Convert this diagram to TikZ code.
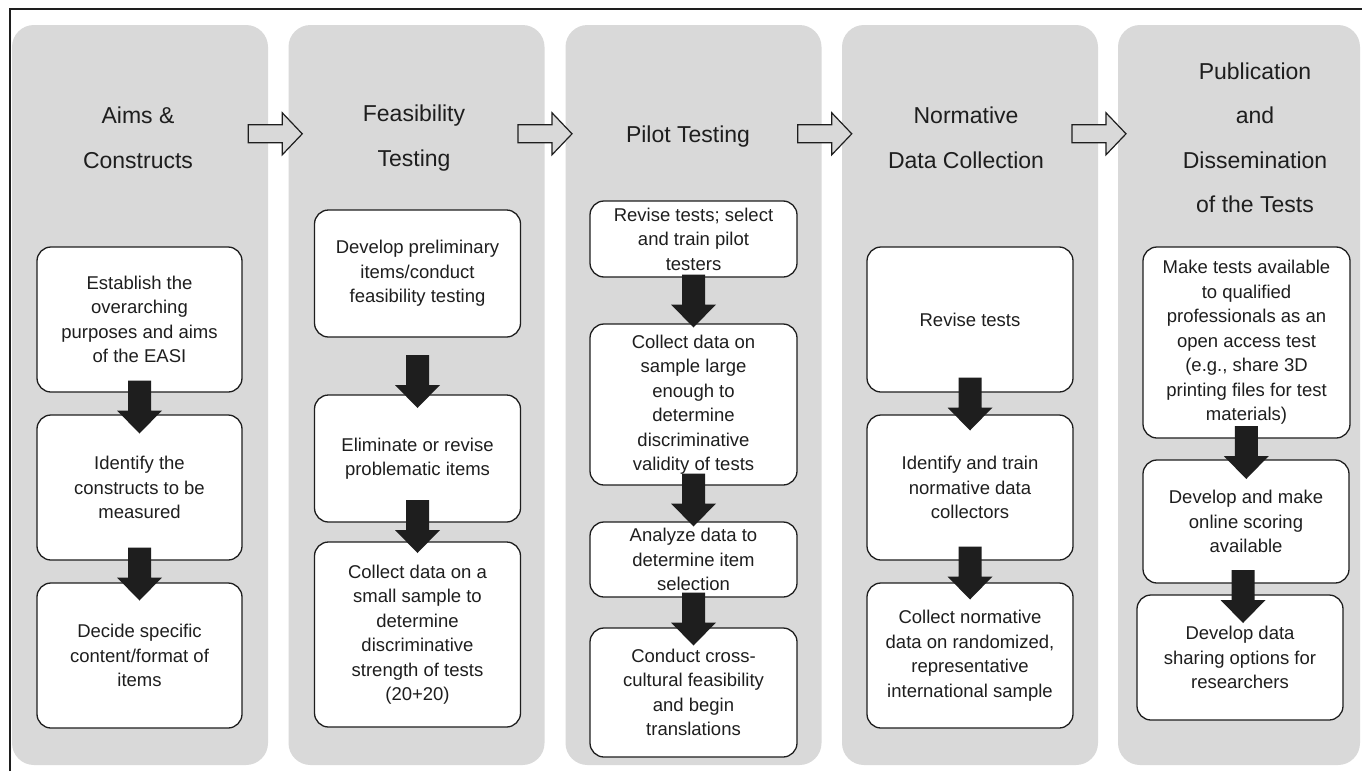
\documentclass[tikz,border=0pt]{standalone}
\usepackage{fontspec}
\setmainfont{Liberation Sans}
\usetikzlibrary{calc}
\definecolor{colgray}{RGB}{217,217,217}
\definecolor{inkgray}{RGB}{30,30,30}
\tikzset{
  phase/.style={fill=colgray, rounded corners=22pt, minimum width=256pt, minimum height=740pt, inner sep=0pt},
  phasetitle/.style={text=inkgray, align=center, inner sep=0pt, font=\fontsize{23}{44.5}\selectfont},
  stepbox/.style={draw=inkgray, line width=1.3pt, fill=white, rounded corners=14pt, align=center, inner sep=0pt, text=inkgray, font=\fontsize{18.5}{24.5}\selectfont},
}
% black block arrow between two stacked boxes
\def\downblock[#1](#2)(#3){\path ($(#2.south)!0.5!(#3.north)$) ++(0,#1) coordinate (m);
  \fill[inkgray] (m) ++(-11.5,-26) -- ++(23,0) -- ++(0,30) -- ++(11,0) -- ++(-22.5,23) -- ++(-22.5,-23) -- ++(11,0) -- cycle;}
% hollow arrow between two phases
\def\hollowblock[#1](#2)(#3){\path ($(#2.north east)!0.5!(#3.north west)$) ++(#1,109) coordinate (h);
  \filldraw[fill=colgray, draw=inkgray, line width=1.2pt] (h) ++(-27,-9) -- ++(34,0) -- ++(0,-12) -- ++(20,21) -- ++(-20,21) -- ++(0,-12) -- ++(-34,0) -- cycle;}

\begin{document}
\begin{tikzpicture}[x=1pt, y=-1pt]
			%%%%% START %%%%%
			\useasboundingbox (0,0) rectangle (1362,771);
			\fill[white] (0,0) rectangle (1362,771);
			\draw[inkgray, line width=1.5pt] (10,771) -- (10,9) -- (1362,9);
			
			\node[phase] (col1) at (140,395) {};
			\node[phase] (col2) at (416.5,395) {};
			\node[phase] (col3) at (693.5,395) {};
			\node[phase] (col4) at (970,395) {};
			\node[phase, minimum width=242pt] (col5) at (1239,395) {};
			
			\node[phasetitle] (aims) at (138,138) {Aims \&\\Constructs};
			\node[phasetitle] (feas) at (414,138) {Feasibility\\Testing};
			\node[phasetitle] (pilot) at (688,137) {Pilot Testing};
			\node[phasetitle] (norm) at (966,138) {Normative\\Data Collection};
			\node[phasetitle] (publ) at (1255,138) {Publication\\and\\Dissemination\\of the Tests};
			
			\hollowblock[-3](col1)(col2)
			\hollowblock[-10](col2)(col3)
			\hollowblock[-7](col3)(col4)
			\hollowblock[-9](col4)(col5)
			
			% Aims & Constructs
			\node[stepbox, minimum width=205pt, minimum height=145pt] (a1) at (139.5,319.5) {Establish the\\overarching\\purposes and aims\\of the EASI};
			\node[stepbox, minimum width=205pt, minimum height=145pt] (a2) at (139.5,487.5) {Identify the\\constructs to be\\measured};
			\node[stepbox, minimum width=205pt, minimum height=145pt] (a3) at (139.5,655.5) {Decide specific\\content/format of\\items};
			\downblock[3](a1)(a2)
			\downblock[2](a2)(a3)
			
			% Feasibility Testing
			\node[stepbox, minimum width=206pt, minimum height=127pt] (f1) at (417.5,273.5) {Develop preliminary\\items/conduct\\feasibility testing};
			\node[stepbox, minimum width=206pt, minimum height=127pt] (f2) at (417.5,458.5) {Eliminate or revise\\problematic items};
			\node[stepbox, minimum width=206pt, minimum height=185pt] (f3) at (417.5,634.5) {Collect data on a\\small sample to\\determine\\discriminative\\strength of tests\\(20+20)};
			\downblock[15](f1)(f2)
			\downblock[-6](f2)(f3)
			
			% Pilot Testing
			\node[stepbox, minimum width=207pt, minimum height=76pt] (p1) at (693.5,239) {Revise tests; select\\and train pilot\\testers};
			\node[stepbox, minimum width=207pt, minimum height=161pt] (p2) at (693.5,404.5) {Collect data on\\sample large\\enough to\\determine\\discriminative\\validity of tests};
			\node[stepbox, minimum width=207pt, minimum height=75pt] (p3) at (693.5,559.5) {Analyze data to\\determine item\\selection};
			\node[stepbox, minimum width=207pt, minimum height=129pt] (p4) at (693.5,692.5) {Conduct cross-\\cultural feasibility\\and begin\\translations};
			\downblock[0](p1)(p2)
			\downblock[-4](p2)(p3)
			\downblock[6](p3)(p4)
			
			% Normative Data Collection
			\node[stepbox, minimum width=206pt, minimum height=145pt] (n1) at (970,319.5) {Revise tests};
			\node[stepbox, minimum width=206pt, minimum height=145pt] (n2) at (970,487.5) {Identify and train\\normative data\\collectors};
			\node[stepbox, minimum width=206pt, minimum height=145pt] (n3) at (970,655.5) {Collect normative\\data on randomized,\\representative\\international sample};
			\downblock[0](n1)(n2)
			\downblock[1](n2)(n3)
			
			% Publication and Dissemination
			\node[stepbox, minimum width=207pt, minimum height=191pt] (d1) at (1246.5,342.5) {Make tests available\\to qualified\\professionals as an\\open access test\\(e.g., share 3D\\printing files for test\\materials)};
			\node[stepbox, minimum width=206pt, minimum height=123pt] (d2) at (1246,521.5) {Develop and make\\online scoring\\available};
			\node[stepbox, minimum width=206pt, minimum height=125pt] (d3) at (1240,657.5) {Develop data\\sharing options for\\researchers};
			\downblock[3](d1)(d2)
			\downblock[7](d2)(d3)
			%%%%% END %%%%%
\end{tikzpicture}
\end{document}
